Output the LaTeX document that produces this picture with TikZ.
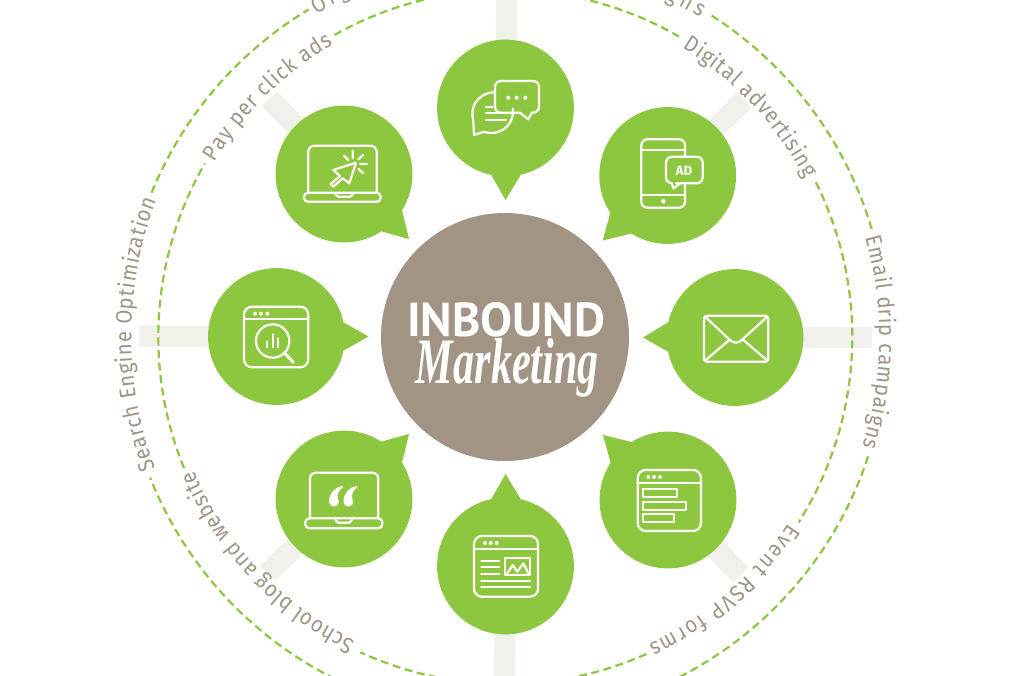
\documentclass[tikz,border=0pt]{standalone}
\usepackage{fontspec}
\usepackage{graphicx}
\usetikzlibrary{decorations.text,backgrounds}
\newfontfamily\ringf[FakeStretch=0.9]{Fira Sans}
\newfontfamily\adf{Fira Sans}
\newfontfamily\capf{PT Sans}
\newfontfamily\scriptf{Liberation Serif}
\definecolor{lime}{HTML}{8DC63F}
\definecolor{taupe}{HTML}{A19485}
\definecolor{barc}{HTML}{F1F1EC}
\newcommand{\ringfmt}{\ringf\fontsize{22.5}{22.5}\selectfont\color{taupe}}
\newcommand{\ringtext}[4]{\path[decorate,decoration={text along path,text={|\ringfmt|#4},text align={fit to path}}] ([shift={(#1:#3pt-8pt)}]O) arc[start angle=#1,end angle=#2,radius=#3pt-8pt];}
\newcommand{\ringarc}[3]{\draw[ringdash] ([shift={(#1:#3pt)}]O) arc[start angle=#1,end angle=#2,radius=#3pt];}
\newcommand{\bubbletip}[2]{\fill[lime] (#1.#2+12.5) -- ([shift={(#2:92pt)}]#1.center) -- (#1.#2-12.5) -- cycle;}
\tikzset{
  bubble/.style={circle,fill=lime,minimum size=136.8pt,inner sep=0pt,outer sep=0pt},
  hub/.style={circle,fill=taupe,minimum size=248pt,inner sep=0pt,outer sep=0pt},
  spoke/.style={draw=barc,line width=21pt},
  ringdash/.style={draw=lime,line width=2.2pt,dash pattern=on 8pt off 4.6pt},
  icon/.style={draw=white,line width=2.2pt,line join=round,line cap=round},
  iconr/.style={icon,rounded corners=6pt},
  dotw/.style={fill=white}
}
\begin{document}
\begin{tikzpicture}[x=1pt,y=1pt]
\useasboundingbox (0,0) rectangle (1014,-675);
\clip (0,0) rectangle (1014,-675);
\coordinate (O) at (505.3,-337);
% hub and bubbles
\node[hub] (hub) at (505,-337) {};
\node[bubble] (b1) at (505.5,-108) {};
\node[bubble] (b2) at (667.7,-175.5) {};
\node[bubble] (b3) at (735,-337.5) {};
\node[bubble] (b4) at (668,-500) {};
\node[bubble] (b5) at (505.5,-566) {};
\node[bubble] (b6) at (344,-499) {};
\node[bubble] (b7) at (276.5,-336.5) {};
\node[bubble] (b8) at (344,-174) {};
\bubbletip{b1}{-90}
\bubbletip{b2}{-135}
\bubbletip{b3}{180}
\bubbletip{b4}{135}
\bubbletip{b5}{90}
\bubbletip{b6}{45}
\bubbletip{b7}{0}
\bubbletip{b8}{-45}
% spoke ends
\coordinate (e1) at (506.7,5);
\coordinate (e2) at (744.5,-100);
\coordinate (e3) at (871.5,-337.5);
\coordinate (e4) at (741,-575);
\coordinate (e5) at (504.5,-680);
\coordinate (e6) at (267.5,-573.5);
\coordinate (e7) at (139.3,-336.2);
\coordinate (e8) at (269.5,-99);
\begin{scope}[on background layer]
\fill[white] (0,0) rectangle (1014,-675);
\foreach \i in {1,...,8} {\draw[spoke] (b\i.center) -- (e\i);}
\end{scope}
% rings
\ringarc{119.5}{60}{347}
\ringarc{26.5}{-32.3}{347}
\ringarc{-66}{-114.7}{347}
\ringarc{-157.8}{-210}{347}
\ringarc{157.8}{121}{382}
\ringarc{57.3}{16.2}{382}
\ringarc{-18.2}{-158.4}{382}
% ring labels
\ringtext{149}{120.5}{347}{Pay per click ads}
\ringtext{58.5}{27.8}{347}{Digital advertising}
\ringtext{-33.3}{-65}{347}{Event RSVP forms}
\ringtext{-116.2}{-156.8}{347}{School blog and website}
\ringtext{200.6}{158.6}{382}{Search Engine Optimization}
\ringtext{15.4}{-17}{382}{Email drip campaigns}
\ringtext{120.4}{114.4}{382}{Org}
\ringtext{64.6}{58.6}{382}{gns}
% hub text
\node[inner sep=0pt,text=white] (t1) at (506.2,-319.7) {\resizebox{198pt}{34pt}{\capf\bfseries INBOUND}};
\node[inner sep=0pt,text=white] (t2) at (507.5,-367.5) {\resizebox{183pt}{45pt}{\scriptf\itshape\bfseries Marketing}};
% icon 1: chat
\draw[iconr] (520,-112.7) -- (495,-112.7) -- (495,-81) -- (539,-81) -- (539,-112.7) -- (531.7,-112.7);
\draw[icon] (520,-112.7) -- (528.3,-119.3) -- (531.7,-112.7);
\foreach \x in {508.3,516.7,525.3} {\fill[dotw] (\x,-97.7) circle (2);}
\draw[icon] (494,-92.3) arc[start angle=90,end angle=197,radius=21.7] -- (474,-135) -- (484,-131.7) arc[start angle=250,end angle=367,radius=21.7];
\draw[icon] (486,-106.7) -- (492.7,-106.7) (486,-113.3) -- (499.3,-113.3) (486,-120) -- (506,-120);
% icon 2: phone
\draw[iconr] (685,-157) -- (685,-139.3) -- (641.3,-139.3) -- (641.3,-207.7) -- (685,-207.7) -- (685,-183.3);
\draw[icon] (641.3,-150) -- (685,-150) (641.3,-195) -- (685,-195);
\fill[dotw] (663.3,-201.3) circle (2.2);
\draw[iconr] (676,-183.3) -- (702.7,-183.3) -- (702.7,-156.7) -- (666,-156.7) -- (666,-183.3) -- (671.7,-183.3);
\draw[icon] (671.7,-183.3) -- (673.5,-188.5) -- (680,-183.3);
\node[inner sep=0pt,text=white,font=\adf\bfseries\fontsize{13.5}{13.5}\selectfont] (ad) at (684,-170.7) {AD};
% icon 3: laptop with cursor
\draw[iconr] (308.3,-192.7) -- (308.3,-145.7) -- (376.7,-145.7) -- (376.7,-192.7);
\draw[icon,rounded corners=4pt] (304,-192.7) -- (380.7,-192.7) -- (380.7,-201.7) -- (304,-201.7) -- cycle;
\draw[icon,rounded corners=1.5pt] (335,-193) -- (337,-196.7) -- (351.3,-196.7) -- (353.3,-193);
\draw[icon] (356,-162.7) -- (333.3,-170) -- (340,-176) -- (330.7,-184) -- (333.3,-186.7) -- (342.7,-178.3) -- (349.3,-183.3) -- cycle;
\draw[icon] (344,-155.7) -- (348.3,-160) (352.7,-150.7) -- (352.7,-158.3) (363.3,-155) -- (358.3,-159.3) (366.7,-164) -- (360,-164) (363.3,-173.3) -- (358.3,-169);
% icon 4: search window
\draw[iconr,rounded corners=8pt] (244,-306.7) rectangle (308.3,-367.3);
\draw[icon] (244,-319) -- (308.3,-319);
\foreach \x in {255,261,267.3} {\fill[dotw] (\x,-313.7) circle (2);}
\draw[icon] (272.7,-341) circle (16.7);
\draw[icon,line width=3pt] (284.3,-352.7) -- (293.3,-362.3);
\draw[icon] (267,-341.7) -- (267,-347.3) (272.7,-334.3) -- (272.7,-347.3) (277.7,-338.3) -- (277.7,-347.3);
% icon 5: laptop with quotes
\draw[iconr] (310,-518.3) -- (310,-472.7) -- (378.3,-472.7) -- (378.3,-518.3);
\draw[icon,rounded corners=4pt] (305.3,-518.3) -- (382.3,-518.3) -- (382.3,-528.3) -- (305.3,-528.3) -- cycle;
\draw[icon,rounded corners=1.5pt] (335,-518.5) -- (337,-522.7) -- (350.3,-522.7) -- (352.3,-518.5);
\foreach \d in {0,14.4} {
\begin{scope}[shift={(\d,0)}]
\fill[white] (334,-501.7) circle (4.9);
\fill[white] (329.2,-501) .. controls (329,-493) and (335,-487.5) .. (342,-486) -- (342.8,-487.5) .. controls (339,-490) and (336.5,-494) .. (338,-498.5) -- cycle;
\end{scope}}
% icon 6: page with image
\draw[iconr,rounded corners=8pt] (474,-536) rectangle (538,-596.7);
\draw[icon] (474,-549.3) -- (538,-549.3);
\foreach \x in {485,490.7,496.7} {\fill[dotw] (\x,-543) circle (2);}
\draw[icon] (481.3,-560.7) -- (499.3,-560.7) (481.3,-567.3) -- (499.3,-567.3) (481.3,-574) -- (499.3,-574) (481.3,-580.7) -- (530,-580.7) (481.3,-587) -- (530,-587);
\draw[icon,line cap=butt] (505,-558.3) rectangle (530,-575);
\draw[icon] (507.3,-573.3) -- (512.7,-565) -- (517.3,-571.7) -- (523.3,-563.3) -- (528.3,-573.3);
% icon 7: form window
\draw[iconr,rounded corners=8pt] (637.7,-470) rectangle (701,-531);
\draw[icon] (637.7,-483.3) -- (701,-483.3);
\foreach \x in {648.3,654,660} {\fill[dotw] (\x,-477) circle (2);}
\draw[icon] (643.3,-489) rectangle (677.3,-497.3);
\draw[icon] (643.3,-501.7) rectangle (686,-510);
\draw[icon] (643.3,-514) rectangle (674.3,-522.3);
% icon 8: envelope
\draw[icon,rounded corners=3pt] (704,-315.7) rectangle (768.3,-361.7);
\draw[icon] (705.7,-317.3) -- (730,-340) .. controls (733,-343.5) and (739,-343.5) .. (741.7,-340) -- (766.7,-317.3);
\draw[icon] (705.7,-360) -- (729.3,-340) (766.7,-360) -- (743.3,-340);
\end{tikzpicture}
\end{document}
